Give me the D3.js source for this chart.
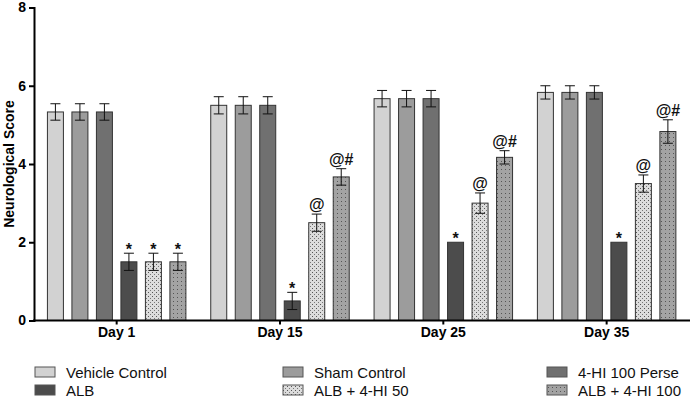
<!DOCTYPE html>
<html><head><meta charset="utf-8">
<script src="https://cdn.jsdelivr.net/npm/d3@7"></script>
<style>body{margin:0;background:#fff}svg{display:block}text{font-family:"Liberation Sans",Arial,sans-serif}</style>
</head><body><svg id="c" width="695" height="400"></svg>
<script>
const days = ["Day 1","Day 15","Day 25","Day 35"];
const seriesNames = ["Vehicle Control","Sham Control","4-HI 100 Perse","ALB","ALB + 4-HI 50","ALB + 4-HI 100"];
const vehicle = [5.33,5.5,5.67,5.83];
const sham = [5.33,5.5,5.67,5.83];
const perse = [5.33,5.5,5.67,5.83];
const alb = [1.5,0.5,2.0,2.0];
const alb50 = [1.5,2.5,3.0,3.5];
const alb100 = [1.5,3.67,4.17,4.83];
const errVehicle = [0.21,0.22,0.21,0.17];
const errSham = [0.21,0.22,0.21,0.17];
const errPerse = [0.21,0.22,0.21,0.17];
const errAlb = [0.22,0.22,0,0];
const errAlb50 = [0.22,0.22,0.26,0.22];
const errAlb100 = [0.22,0.21,0.17,0.3];
const markAlb = ["*","*","*","*"];
const markAlb50 = ["*","@","@","@"];
const markAlb100 = ["*","@#","@#","@#"];
const yTicks = [0,2,4,6,8];

const svg = d3.select("#c");
const defs = svg.append("defs");
const p1 = defs.append("pattern").attr("id","pat50").attr("patternUnits","userSpaceOnUse").attr("width",4).attr("height",4);
p1.append("rect").attr("width",4).attr("height",4).attr("fill","#dcdcdc");
p1.append("rect").attr("x",0).attr("y",0).attr("width",1).attr("height",1).attr("fill","#555");
p1.append("rect").attr("x",2).attr("y",2).attr("width",1).attr("height",1).attr("fill","#777");
const p2 = defs.append("pattern").attr("id","pat100").attr("patternUnits","userSpaceOnUse").attr("width",4).attr("height",4);
p2.append("rect").attr("width",4).attr("height",4).attr("fill","#a3a3a3");
p2.append("rect").attr("x",1).attr("y",1).attr("width",1).attr("height",1).attr("fill","#555");

const fills = ["#d2d2d2","#9c9c9c","#707070","#4c4c4c","url(#pat50)","url(#pat100)"];
const values = [vehicle,sham,perse,alb,alb50,alb100];
const errs = [errVehicle,errSham,errPerse,errAlb,errAlb50,errAlb100];
const marks = [null,null,null,markAlb,markAlb50,markAlb100];

const y = d3.scaleLinear().domain([0,8]).range([320.5,7.5]);
const x = d3.scaleBand().domain(days).range([35,688.3]).padding(0);
const xi = d3.scaleBand().domain(seriesNames).range([0,x.bandwidth()]).paddingInner(0.347).paddingOuter(0.507);

seriesNames.forEach((s,si)=>{
  const g = svg.append("g");
  days.forEach((d,di)=>{
    const v = values[si][di];
    const bx = x(d)+xi(s);
    const w = xi.bandwidth();
    g.append("rect").attr("x",bx).attr("y",y(v)).attr("width",w).attr("height",y(0)-y(v))
      .attr("fill",fills[si]).attr("stroke","#333").attr("stroke-width",1);
    const e = errs[si][di];
    const cx = bx + w/2;
    if (e>0){
      g.append("line").attr("x1",cx).attr("x2",cx).attr("y1",y(v+e)).attr("y2",y(v-e)).attr("stroke","#111").attr("stroke-width",1);
      [v+e,v-e].forEach(t=>g.append("line").attr("x1",cx-5).attr("x2",cx+5).attr("y1",y(t)).attr("y2",y(t)).attr("stroke","#111").attr("stroke-width",1));
    }
    if (marks[si]){
      const m = marks[si][di];
      const top = y(v+e);
      const isStar = m==="*";
      g.append("text").attr("x",cx).attr("y",isStar? top+2 : top-4).attr("text-anchor","middle")
        .attr("font-size",isStar?16:16).attr("font-weight","bold").attr("fill","#111").text(m);
    }
  });
});

// y axis
const ya = svg.append("g").attr("transform","translate(34,0)")
  .call(d3.axisLeft(y).tickValues(yTicks).tickSize(5).tickPadding(3).tickFormat(d3.format("d")));
ya.select(".domain").attr("stroke","#000").attr("stroke-width",2);
ya.selectAll(".tick line").attr("stroke","#000").attr("stroke-width",2);
ya.selectAll("text").attr("font-size",14).attr("font-weight","bold").attr("fill","#000").style("font-family","'Liberation Sans',Arial,sans-serif");

// x axis
const xa = svg.append("g").attr("transform","translate(0,320.5)")
  .call(d3.axisBottom(x).tickSize(4).tickPadding(3).tickSizeOuter(0));
xa.select(".domain").attr("stroke","#000").attr("stroke-width",2).attr("d","M33,0H690");
xa.selectAll(".tick line").attr("stroke","#000").attr("stroke-width",2);
xa.selectAll("text").attr("font-size",14).attr("font-weight","bold").attr("fill","#000").style("font-family","'Liberation Sans',Arial,sans-serif");

svg.append("text").attr("transform","translate(14,164) rotate(-90)").attr("text-anchor","middle")
  .attr("font-size",14).attr("font-weight","bold").attr("fill","#000").text("Neurological Score");

// legend
const legX = [35,283,547];
const legY = [372,390];
seriesNames.forEach((s,i)=>{
  const col = i%3, row = Math.floor(i/3);
  const lg = svg.append("g").attr("transform",`translate(${legX[col]},${legY[row]})`);
  lg.append("rect").attr("x",0).attr("y",-5).attr("width",20).attr("height",10).attr("fill",fills[i]).attr("stroke","#555").attr("stroke-width",1);
  lg.append("text").attr("x",31).attr("y",5.5).attr("font-size",15).attr("fill","#111").text(s);
});
</script></body></html>
